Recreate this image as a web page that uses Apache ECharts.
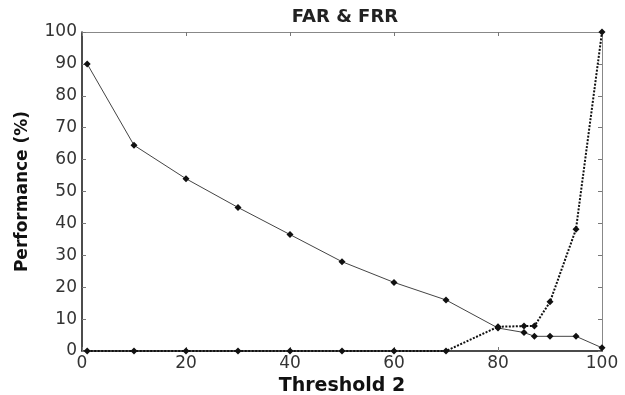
<!DOCTYPE html>
<html>
<head>
<meta charset="utf-8">
<script src="https://cdn.jsdelivr.net/npm/echarts@6/dist/echarts.min.js"></script>
<style>html,body{margin:0;padding:0;background:#fff}#c{width:625px;height:395px}</style>
</head>
<body>
<div id="c"></div>
<script>
var thresholds = [1, 10, 20, 30, 40, 50, 60, 70, 80, 85, 87, 90, 95, 100];
var frr = [90, 64.5, 54, 45, 36.5, 28, 21.5, 16, 7.2, 5.8, 4.6, 4.6, 4.6, 1];
var far = [0, 0, 0, 0, 0, 0, 0, 0, 7.6, 7.8, 7.8, 15.4, 38.2, 100];
var xTicks = [0, 20, 40, 60, 80, 100];
var yTicks = [0, 10, 20, 30, 40, 50, 60, 70, 80, 90, 100];

function pairs(xs, ys) { return xs.map(function (x, i) { return [x, ys[i]]; }); }

var chart = echarts.init(document.getElementById('c'), null, { renderer: 'canvas' });
var font = 'DejaVu Sans';
chart.setOption({
  animation: false,
  backgroundColor: '#fff',
  title: {
    text: 'FAR & FRR', left: 340, top: 3, textAlign: 'center',
    textStyle: { fontFamily: font, fontSize: 18, fontWeight: 'bold', color: '#222' }
  },
  grid: { left: 82, right: 23, top: 32, bottom: 44, containLabel: false, outerBoundsMode: 'none' },
  xAxis: [{
    type: 'value', min: xTicks[0], max: xTicks[xTicks.length - 1], interval: 20,
    name: 'Threshold 2', nameLocation: 'middle', nameGap: 26,
    nameTextStyle: { fontFamily: font, fontSize: 19, fontWeight: 'bold', color: '#111' },
    axisLine: { onZero: false, lineStyle: { color: '#111', width: 1.5 } },
    axisTick: { inside: true, length: 4, lineStyle: { color: '#777' } },
    axisLabel: { fontFamily: font, fontSize: 17, color: '#333', margin: 4 },
    splitLine: { show: false }
  }, {
    type: 'value', position: 'top', min: 0, max: 100, interval: 20,
    axisLine: { show: true, onZero: false, lineStyle: { color: '#888', width: 1 } },
    axisTick: { inside: true, length: 4, lineStyle: { color: '#777' } },
    axisLabel: { show: false }, splitLine: { show: false }
  }],
  yAxis: [{
    type: 'value', min: yTicks[0], max: yTicks[yTicks.length - 1], interval: 10,
    name: 'Performance (%)', nameLocation: 'middle', nameGap: 51,
    nameTextStyle: { fontFamily: font, fontSize: 17, fontWeight: 'bold', color: '#111' },
    axisLine: { show: true, onZero: false, lineStyle: { color: '#111', width: 1.5 } },
    axisTick: { inside: true, length: 4, lineStyle: { color: '#777' } },
    axisLabel: { fontFamily: font, fontSize: 17, color: '#333', margin: 5 },
    splitLine: { show: false }
  }, {
    type: 'value', position: 'right', min: 0, max: 100, interval: 10,
    axisLine: { show: true, onZero: false, lineStyle: { color: '#888', width: 1 } },
    axisTick: { inside: true, length: 4, lineStyle: { color: '#777' } },
    axisLabel: { show: false }, splitLine: { show: false }
  }],
  series: [{
    name: 'FRR', type: 'line', data: pairs(thresholds, frr),
    symbol: 'diamond', symbolSize: 7,
    lineStyle: { color: '#444', width: 1 },
    itemStyle: { color: '#111' }
  }, {
    name: 'FAR', type: 'line', data: pairs(thresholds, far),
    symbol: 'diamond', symbolSize: 7,
    lineStyle: { color: '#111', width: 2, type: [2, 1.5] },
    itemStyle: { color: '#111' }
  }]
});
</script>
</body>
</html>
